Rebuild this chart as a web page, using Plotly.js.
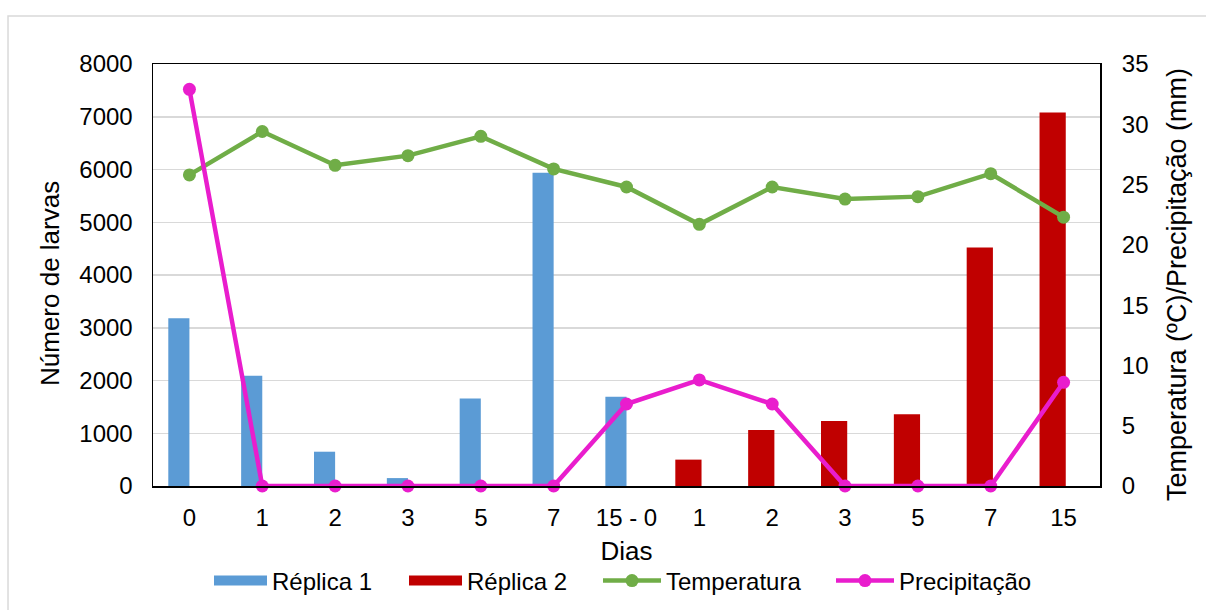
<!DOCTYPE html>
<html>
<head>
<meta charset="utf-8">
<script src="https://cdn.plot.ly/plotly-3.0.1.min.js"></script>
<style>
  html, body { margin: 0; padding: 0; background: #fff; }
  #chart { width: 1206px; height: 610px; }
</style>
</head>
<body>
<div id="chart"></div>
<script>
// Sampling days (two replicate runs back to back)
const dayLabels = ['0', '1', '2', '3', '5', '7', '15 - 0', '1', '2', '3', '5', '7', '15'];
const positions = dayLabels.map((_, i) => i);

// Number of larvae per replicate
const replica1 = [3180, 2090, 650, 150, 1660, 5940, 1690, null, null, null, null, null, null];
const replica2 = [null, null, null, null, null, null, null, 500, 1060, 1230, 1360, 4520, 7080];

// Weather: temperature (ºC) and precipitation (mm)
const temperatura = [25.8, 29.4, 26.6, 27.4, 29.0, 26.3, 24.8, 21.7, 24.8, 23.8, 24.0, 25.9, 22.3];
const precipitacao = [32.9, 0, 0, 0, 0, 0, 6.8, 8.8, 6.8, 0, 0, 0, 8.6];

const FONT = 'Liberation Sans, Arial, sans-serif';
const BLUE = '#5B9BD5', RED = '#C00000', GREEN = '#70AD47', MAGENTA = '#E91DCD';

const traces = [
  {
    type: 'bar', name: 'Réplica 1', x: positions, y: replica1,
    width: 0.29, offset: -0.29, showlegend: false,
    marker: { color: BLUE }, hoverinfo: 'y'
  },
  {
    type: 'bar', name: 'Réplica 2', x: positions, y: replica2,
    width: 0.36, offset: -0.33, showlegend: false,
    marker: { color: RED }, hoverinfo: 'y'
  },
  // wide swatch-style legend keys for the two bar series
  {
    type: 'scatter', mode: 'lines', name: 'Réplica 1', x: [null], y: [null],
    line: { color: BLUE, width: 13 }, hoverinfo: 'skip', legend: 'legend'
  },
  {
    type: 'scatter', mode: 'lines', name: 'Réplica 2', x: [null], y: [null],
    line: { color: RED, width: 13 }, hoverinfo: 'skip', legend: 'legend2'
  },
  {
    type: 'scatter', mode: 'lines+markers', name: 'Temperatura',
    x: positions, y: temperatura, yaxis: 'y2', legend: 'legend3',
    line: { color: GREEN, width: 4.5 },
    marker: { color: GREEN, size: 13 }, cliponaxis: false
  },
  {
    type: 'scatter', mode: 'lines+markers', name: 'Precipitação',
    x: positions, y: precipitacao, yaxis: 'y2', legend: 'legend4',
    line: { color: MAGENTA, width: 4.5 },
    marker: { color: MAGENTA, size: 13 }, cliponaxis: false
  }
];

// one legend box per entry so each key sits at its own spot along the bottom
function legendAt(px, itemwidth) {
  return {
    orientation: 'h', x: (px - 153) / 947, xanchor: 'left', y: -0.225, yanchor: 'middle',
    font: { family: FONT, size: 24, color: '#000' }, itemwidth: itemwidth,
    bgcolor: 'rgba(0,0,0,0)', borderwidth: 0
  };
}

const layout = {
  width: 1206, height: 610,
  margin: { l: 153, r: 106, t: 64, b: 124, autoexpand: false },
  paper_bgcolor: '#ffffff', plot_bgcolor: '#ffffff',
  font: { family: FONT, size: 24, color: '#000000' },
  barmode: 'overlay',
  showlegend: true,
  legend: legendAt(209, 53),
  legend2: legendAt(404, 53),
  legend3: legendAt(598, 58),
  legend4: legendAt(831, 58),
  xaxis: {
    range: [-0.5, 12.5], tickmode: 'array', tickvals: positions, ticktext: dayLabels,
    showgrid: false, zeroline: false, automargin: false,
    showline: true, mirror: true, linecolor: '#000', linewidth: 1.5,
    ticks: 'outside', ticklen: 10, tickcolor: 'rgba(0,0,0,0)',
    tickfont: { family: FONT, size: 24, color: '#000' },
    title: { text: 'Dias', font: { family: FONT, size: 26, color: '#000' }, standoff: 11 }
  },
  yaxis: {
    range: [0, 8000], tickvals: [0, 1000, 2000, 3000, 4000, 5000, 6000, 7000, 8000],
    showgrid: true, gridcolor: '#d9d9d9', gridwidth: 1.5, zeroline: false, automargin: false,
    showline: true, mirror: true, linecolor: '#000', linewidth: 1.5,
    ticks: 'outside', ticklen: 14, tickcolor: 'rgba(0,0,0,0)',
    tickfont: { family: FONT, size: 24, color: '#000' }
  },
  yaxis2: {
    range: [0, 35], tickvals: [0, 5, 10, 15, 20, 25, 30, 35],
    overlaying: 'y', side: 'right', automargin: false,
    showgrid: false, zeroline: false, showline: false,
    ticks: 'outside', ticklen: 16, tickcolor: 'rgba(0,0,0,0)',
    tickfont: { family: FONT, size: 24, color: '#000' }
  },
  annotations: [
    {
      text: 'Número de larvas', xref: 'paper', yref: 'paper',
      x: (50 - 153) / 947, y: (486 - 284) / 422, xanchor: 'center', yanchor: 'middle',
      textangle: -90, showarrow: false, font: { family: FONT, size: 26, color: '#000' }
    },
    {
      text: 'Temperatura (ºC)/Precipitação (mm)', xref: 'paper', yref: 'paper',
      x: (1177 - 153) / 947, y: (486 - 285) / 422, xanchor: 'center', yanchor: 'middle',
      textangle: -90, showarrow: false, font: { family: FONT, size: 27, color: '#000' }
    }
  ],
  shapes: [
    {
      type: 'rect', xref: 'paper', yref: 'paper',
      x0: -0.1531, x1: 1.1267, y0: -0.3175, y1: 1.1137,
      line: { color: '#d9d9d9', width: 1.5 }, fillcolor: 'rgba(0,0,0,0)', layer: 'below'
    }
  ]
};

Plotly.newPlot('chart', traces, layout, { displayModeBar: false, staticPlot: true });
</script>
</body>
</html>
